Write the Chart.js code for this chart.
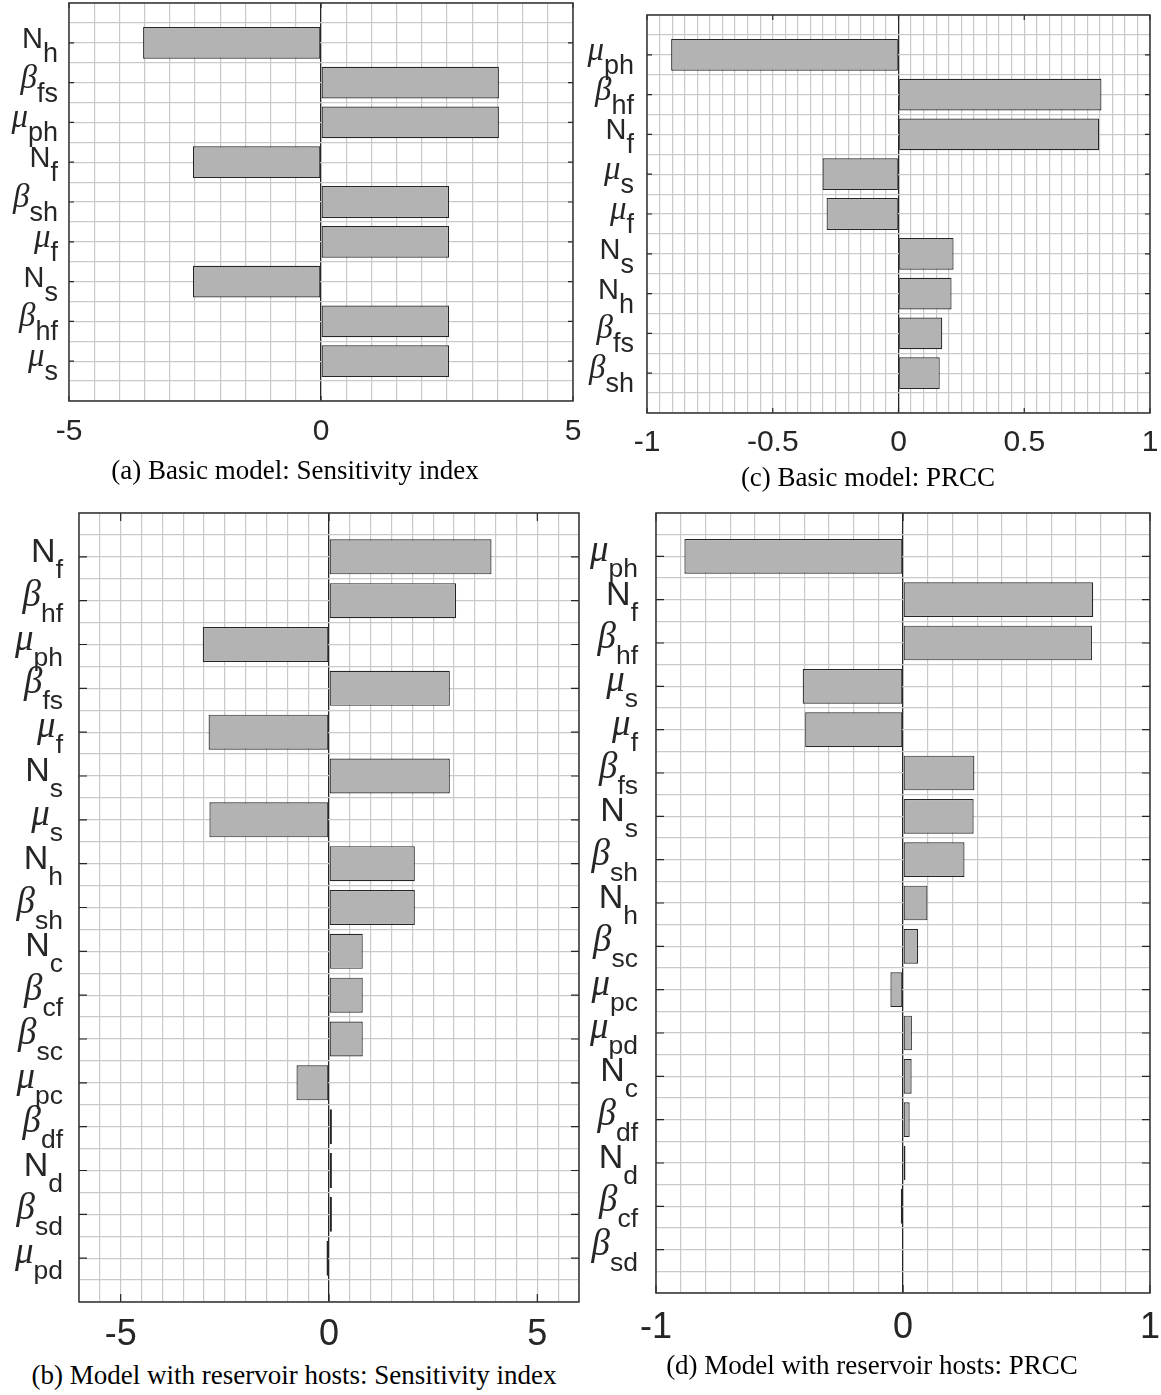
<!DOCTYPE html>
<html><head><meta charset="utf-8">
<script src="https://cdn.jsdelivr.net/npm/chart.js@4.4.0/dist/chart.umd.min.js"></script>
<style>
html,body{margin:0;padding:0;background:#fff}
body{width:1161px;height:1395px;position:relative;overflow:hidden}
canvas{position:absolute}
.cap{position:absolute;font-family:"Liberation Serif","Times New Roman",serif;font-size:27px;line-height:27px;white-space:nowrap;color:#000;transform:translateX(-50%)}
</style></head><body>
<canvas id="ca"></canvas>
<canvas id="cc"></canvas>
<canvas id="cb"></canvas>
<canvas id="cd"></canvas>
<div class="cap" id="capA">(a) Basic model: Sensitivity index</div>
<div class="cap" id="capC">(c) Basic model: PRCC</div>
<div class="cap" id="capB">(b) Model with reservoir hosts: Sensitivity index</div>
<div class="cap" id="capD">(d) Model with reservoir hosts: PRCC</div>
<script>
// ---- data ----
const catsA = ['N_h','β_fs','μ_ph','N_f','β_sh','μ_f','N_s','β_hf','μ_s'];
const valsA = [-3.53, 3.53, 3.53, -2.54, 2.54, 2.54, -2.54, 2.54, 2.54];
const ticksA = [-5, 0, 5];

const catsC = ['μ_ph','β_hf','N_f','μ_s','μ_f','N_s','N_h','β_fs','β_sh'];
const valsC = [-0.904, 0.807, 0.798, -0.302, -0.286, 0.219, 0.211, 0.174, 0.164];
const ticksC = [-1, -0.5, 0, 0.5, 1];

const catsB = ['N_f','β_hf','μ_ph','β_fs','μ_f','N_s','μ_s','N_h','β_sh','N_c','β_cf','β_sc','μ_pc','β_df','N_d','β_sd','μ_pd'];
const valsB = [3.90, 3.05, -3.03, 2.90, -2.89, 2.90, -2.87, 2.06, 2.06, 0.81, 0.81, 0.81, -0.78, 0.07, 0.07, 0.07, -0.06];
const ticksB = [-5, 0, 5];

const catsD = ['μ_ph','N_f','β_hf','μ_s','μ_f','β_fs','N_s','β_sh','N_h','β_sc','μ_pc','μ_pd','N_c','β_df','N_d','β_cf','β_sd'];
const valsD = [-0.885, 0.770, 0.765, -0.406, -0.396, 0.289, 0.286, 0.249, 0.099, 0.061, -0.051, 0.036, 0.035, 0.027, 0.010, -0.009, 0.002];
const ticksD = [-1, 0, 1];

// ---- layout / style ----
const TEXT = '#262626';
const GRID = '#c9c9c9';
const panels = [
  {id:'ca', cats:catsA, vals:valsA, ticks:ticksA, xmin:-5, xmax:5, step:0.5,
   cx:0, cy:0, cw:600, ch:470, l:69, r:573, t:3, b:401,
   tickFont:30, tickPad:13, baseSize:29, greekSize:33, subSize:27, baseDy:5, subDy:19, gap:11, tl:5},
  {id:'cc', cats:catsC, vals:valsC, ticks:ticksC, xmin:-1, xmax:1, step:0.05,
   cx:575, cy:0, cw:586, ch:470, l:647, r:1150, t:15, b:413,
   tickFont:30, tickPad:12, baseSize:29, greekSize:33, subSize:27, baseDy:5, subDy:19, gap:13, tl:5},
  {id:'cb', cats:catsB, vals:valsB, ticks:ticksB, xmin:-6, xmax:6, step:0.5,
   cx:0, cy:490, cw:610, ch:870, l:79, r:579, t:513, b:1302,
   tickFont:36, tickPad:11, baseSize:34, greekSize:37, subSize:26.5, baseDy:5, subDy:21, gap:16, tl:8},
  {id:'cd', cats:catsD, vals:valsD, ticks:ticksD, xmin:-1, xmax:1, step:0.1,
   cx:575, cy:490, cw:586, ch:870, l:656, r:1150, t:513, b:1293,
   tickFont:36, tickPad:13, baseSize:34, greekSize:37, subSize:26.5, baseDy:5, subDy:21, gap:18, tl:8}
];
const caps = [
  {id:'capA', x:295, base:480},
  {id:'capC', x:868, base:487},
  {id:'capB', x:294, base:1385},
  {id:'capD', x:872, base:1375}
];
caps.forEach(c=>{const el=document.getElementById(c.id); el.style.left=c.x+'px'; el.style.top=(c.base-22.6)+'px';});

function fmt(v){ if (Math.abs(v) < 1e-9) return '0'; return String(Math.round(v*100)/100); }

function framePlugin(p){
  return {
    id:'frame_'+p.id,
    afterDraw(chart){
      const ctx = chart.ctx, ca = chart.chartArea, ys = chart.scales.y, xs = chart.scales.x;
      ctx.save();
      // inner tick marks
      ctx.strokeStyle = TEXT; ctx.lineWidth = 1.2;
      ctx.beginPath();
      p.cats.forEach((_, i) => {
        const y = ys.getPixelForValue(i + 1);
        ctx.moveTo(ca.left, y); ctx.lineTo(ca.left + p.tl, y);
        ctx.moveTo(ca.right, y); ctx.lineTo(ca.right - p.tl, y);
      });
      p.ticks.forEach(t => {
        const x = xs.getPixelForValue(t);
        ctx.moveTo(x, ca.top); ctx.lineTo(x, ca.top + p.tl);
        ctx.moveTo(x, ca.bottom); ctx.lineTo(x, ca.bottom - p.tl);
      });
      ctx.stroke();
      // box
      ctx.lineWidth = 1.5; ctx.strokeStyle = '#333';
      ctx.strokeRect(ca.left, ca.top, ca.right - ca.left, ca.bottom - ca.top);
      // y labels with subscripts
      ctx.fillStyle = TEXT; ctx.textAlign = 'left'; ctx.textBaseline = 'alphabetic';
      p.cats.forEach((lab, i) => {
        const y = ys.getPixelForValue(i + 1);
        const parts = lab.split('_');
        const base = parts[0], sub = parts[1] || '';
        const greek = /[\u0370-\u03ff]/.test(base);
        const bf = greek ? `italic ${p.greekSize}px "Liberation Serif", serif` : `${p.baseSize}px "Liberation Sans", Arial, sans-serif`;
        const sf = `${p.subSize}px "Liberation Sans", Arial, sans-serif`;
        ctx.font = sf; const sw = ctx.measureText(sub).width;
        ctx.font = bf; const bw = ctx.measureText(base).width;
        const xEnd = ca.left - p.gap;
        ctx.fillText(base, xEnd - sw - bw, y + p.baseDy);
        ctx.font = sf; ctx.fillText(sub, xEnd - sw, y + p.subDy);
      });
      ctx.restore();
    }
  };
}

function makeChart(p){
  const cv = document.getElementById(p.id);
  cv.width = p.cw; cv.height = p.ch;
  cv.style.left = p.cx + 'px'; cv.style.top = p.cy + 'px';
  cv.style.width = p.cw + 'px'; cv.style.height = p.ch + 'px';
  const yW = p.l - p.cx;
  const xH = p.cy + p.ch - p.b;
  new Chart(cv, {
    type: 'bar',
    data: {
      datasets: [{
        data: p.vals.map((v, i) => ({x: v, y: i + 1})),
        backgroundColor: '#b3b3b3',
        borderColor: '#262626',
        borderWidth: 1.2,
        borderSkipped: false,
        categoryPercentage: 1,
        barPercentage: 1.6
      }]
    },
    options: {
      indexAxis: 'y',
      responsive: false,
      animation: false,
      layout: {padding: {top: p.t - p.cy, right: p.cx + p.cw - p.r, left: 0, bottom: 0}},
      plugins: {legend: {display: false}, tooltip: {enabled: false}},
      scales: {
        x: {
          type: 'linear', min: p.xmin, max: p.xmax, position: 'bottom', offset: false,
          afterFit: s => { s.height = xH; s.paddingLeft = 0; s.paddingRight = 0; },
          ticks: {
            stepSize: p.step, autoSkip: false, maxRotation: 0, minRotation: 0,
            padding: p.tickPad, color: TEXT,
            font: {family: '"Liberation Sans", Arial, sans-serif', size: p.tickFont},
            callback: v => p.ticks.some(t => Math.abs(t - v) < 1e-6) ? fmt(v) : ''
          },
          grid: {
            drawTicks: false, offset: false,
            color: c => (c.tick && Math.abs(c.tick.value) < 1e-9) ? '#262626' : GRID,
            lineWidth: c => (c.tick && Math.abs(c.tick.value) < 1e-9) ? 1.3 : 1.2
          },
          border: {display: false}
        },
        y: {
          type: 'linear', min: 0, max: p.cats.length + 1, reverse: true, offset: false,
          afterFit: s => { s.width = yW; s.paddingTop = 0; s.paddingBottom = 0; },
          ticks: {stepSize: 0.5, autoSkip: false, padding: 0, callback: () => ''},
          grid: {drawTicks: false, offset: false, color: GRID, lineWidth: 1.2},
          border: {display: false}
        }
      }
    },
    plugins: [framePlugin(p)]
  });
}
panels.forEach(makeChart);
</script>
</body></html>
